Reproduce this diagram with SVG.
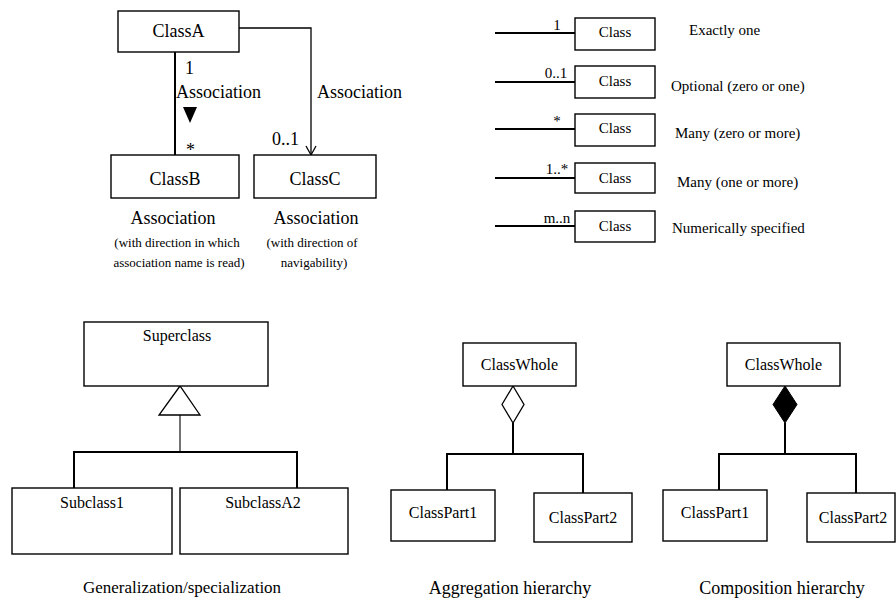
<svg xmlns="http://www.w3.org/2000/svg" width="896" height="601" viewBox="0 0 896 601" font-family="'Times New Roman', 'Liberation Serif', Times, 'DejaVu Serif', serif">
  <style>
    .box { fill: #ffffff; stroke: #000000; stroke-width: 1.4; }
    .wire { fill: none; stroke: #000000; stroke-width: 2; }
    .thin { fill: none; stroke: #000000; stroke-width: 1.3; }
    text { font-family: 'Times New Roman', 'Liberation Serif', Times, 'DejaVu Serif', serif; fill: #000000; }
    .t18 { font-size: 18px; }
    .t17 { font-size: 17px; }
    .t16 { font-size: 16px; }
    .t15 { font-size: 15px; }
    .t13 { font-size: 13px; }
    .mid { text-anchor: middle; }
  </style>
  <rect width="896" height="601" fill="#ffffff"/>

  <!-- connectors -->
  <g id="connectors">
    <!-- association A-B with reading direction -->
    <line class="wire" x1="175" y1="52" x2="175" y2="155"/>
    <polygon points="183,107 197,107 190,123" fill="#000000"/>
    <!-- navigable association A-C -->
    <polyline class="thin" points="239,28 311,28 311,154"/>
    <polyline class="thin" points="306,146 311,155 316,146"/>
    <!-- multiplicity lines -->
    <line class="wire" x1="495" y1="33" x2="575" y2="33"/>
    <line class="wire" x1="495" y1="82" x2="575" y2="82"/>
    <line class="wire" x1="495" y1="129" x2="575" y2="129"/>
    <line class="wire" x1="495" y1="178" x2="575" y2="178"/>
    <line class="wire" x1="495" y1="226" x2="575" y2="226"/>
    <!-- generalization -->
    <polygon points="180,386 159,415 200,415" fill="#ffffff" stroke="#000000" stroke-width="1.3"/>
    <line x1="180" y1="415" x2="180" y2="452" stroke="#000000" stroke-width="1.1"/>
    <polyline class="wire" points="74,488 74,452 297,452 297,488"/>
    <!-- aggregation -->
    <polygon points="513,386 524,404.5 513,423 502,404.5" fill="#ffffff" stroke="#000000" stroke-width="1.3"/>
    <line class="wire" x1="513" y1="423" x2="513" y2="454"/>
    <polyline class="wire" points="447,490 447,454 583,454 583,493"/>
    <!-- composition -->
    <polygon points="785,386 797,404.5 785,423 773,404.5" fill="#000000" stroke="#000000" stroke-width="1"/>
    <line class="wire" x1="785" y1="423" x2="785" y2="454"/>
    <polyline class="wire" points="719,490 719,454 856,454 856,493"/>
  </g>

  <!-- association example -->
  <g id="classA">
    <rect class="box" x="118" y="11" width="121" height="41"/>
    <text class="t18 mid" x="178.5" y="37">ClassA</text>
  </g>
  <g id="classB">
    <rect class="box" x="111" y="155" width="128" height="43"/>
    <text class="t18 mid" x="175" y="185">ClassB</text>
  </g>
  <g id="classC">
    <rect class="box" x="254" y="155" width="122" height="43"/>
    <text class="t18 mid" x="315" y="185">ClassC</text>
  </g>
  <g id="association-labels">
    <text class="t18" x="185" y="74">1</text>
    <text class="t18" x="176" y="98">Association</text>
    <text class="t18" x="186" y="156">*</text>
    <text class="t18" x="317" y="98">Association</text>
    <text class="t18" x="272" y="145">0..1</text>
    <text class="t18 mid" x="173" y="224">Association</text>
    <text class="t13 mid" x="177" y="247">(with direction in which</text>
    <text class="t13 mid" x="179" y="267">association name is read)</text>
    <text class="t18 mid" x="316" y="224">Association</text>
    <text class="t13 mid" x="312" y="247">(with direction of</text>
    <text class="t13 mid" x="314" y="267">navigability)</text>
  </g>

  <!-- multiplicity legend -->
  <g id="mult-one">
    <rect class="box" x="575" y="18" width="80" height="32"/>
    <text class="t15 mid" x="615" y="37">Class</text>
    <text class="t15 mid" x="557" y="30">1</text>
    <text class="t15" x="689" y="35">Exactly one</text>
  </g>
  <g id="mult-optional">
    <rect class="box" x="575" y="66" width="80" height="32"/>
    <text class="t15 mid" x="615" y="86">Class</text>
    <text class="t15 mid" x="556" y="78">0..1</text>
    <text class="t15" x="671" y="91">Optional (zero or one)</text>
  </g>
  <g id="mult-many">
    <rect class="box" x="575" y="114" width="80" height="32"/>
    <text class="t15 mid" x="615" y="133">Class</text>
    <text class="t15 mid" x="557" y="126">*</text>
    <text class="t15" x="675" y="138">Many (zero or more)</text>
  </g>
  <g id="mult-one-or-more">
    <rect class="box" x="575" y="163" width="80" height="30"/>
    <text class="t15 mid" x="615" y="183">Class</text>
    <text class="t15 mid" x="557" y="174">1..*</text>
    <text class="t15" x="677" y="187">Many (one or more)</text>
  </g>
  <g id="mult-range">
    <rect class="box" x="575" y="211" width="80" height="31"/>
    <text class="t15 mid" x="615" y="231">Class</text>
    <text class="t15 mid" x="557" y="223">m..n</text>
    <text class="t15" x="672" y="233">Numerically specified</text>
  </g>

  <!-- generalization -->
  <g id="superclass">
    <rect class="box" x="84" y="322" width="184" height="64"/>
    <text class="t16 mid" x="177" y="341">Superclass</text>
  </g>
  <g id="subclass1">
    <rect class="box" x="12" y="488" width="160" height="66"/>
    <text class="t16 mid" x="92" y="508">Subclass1</text>
  </g>
  <g id="subclassA2">
    <rect class="box" x="180" y="488" width="168" height="66"/>
    <text class="t16 mid" x="263" y="508">SubclassA2</text>
  </g>
  <text class="t17 mid" x="182" y="593">Generalization/specialization</text>

  <!-- aggregation -->
  <g id="agg-whole">
    <rect class="box" x="463" y="343" width="113" height="43"/>
    <text class="t16 mid" x="519.5" y="370">ClassWhole</text>
  </g>
  <g id="agg-part1">
    <rect class="box" x="391" y="490" width="104" height="51"/>
    <text class="t16 mid" x="443" y="518">ClassPart1</text>
  </g>
  <g id="agg-part2">
    <rect class="box" x="534" y="493" width="98" height="49"/>
    <text class="t16 mid" x="583" y="523">ClassPart2</text>
  </g>
  <text class="t18 mid" x="510" y="594">Aggregation hierarchy</text>

  <!-- composition -->
  <g id="comp-whole">
    <rect class="box" x="727" y="343" width="113" height="43"/>
    <text class="t16 mid" x="783.5" y="370">ClassWhole</text>
  </g>
  <g id="comp-part1">
    <rect class="box" x="663" y="490" width="104" height="51"/>
    <text class="t16 mid" x="715" y="518">ClassPart1</text>
  </g>
  <g id="comp-part2">
    <rect class="box" x="807" y="493" width="88" height="49"/>
    <text class="t16 mid" x="853" y="523">ClassPart2</text>
  </g>
  <text class="t18 mid" x="782" y="594">Composition hierarchy</text>
</svg>
